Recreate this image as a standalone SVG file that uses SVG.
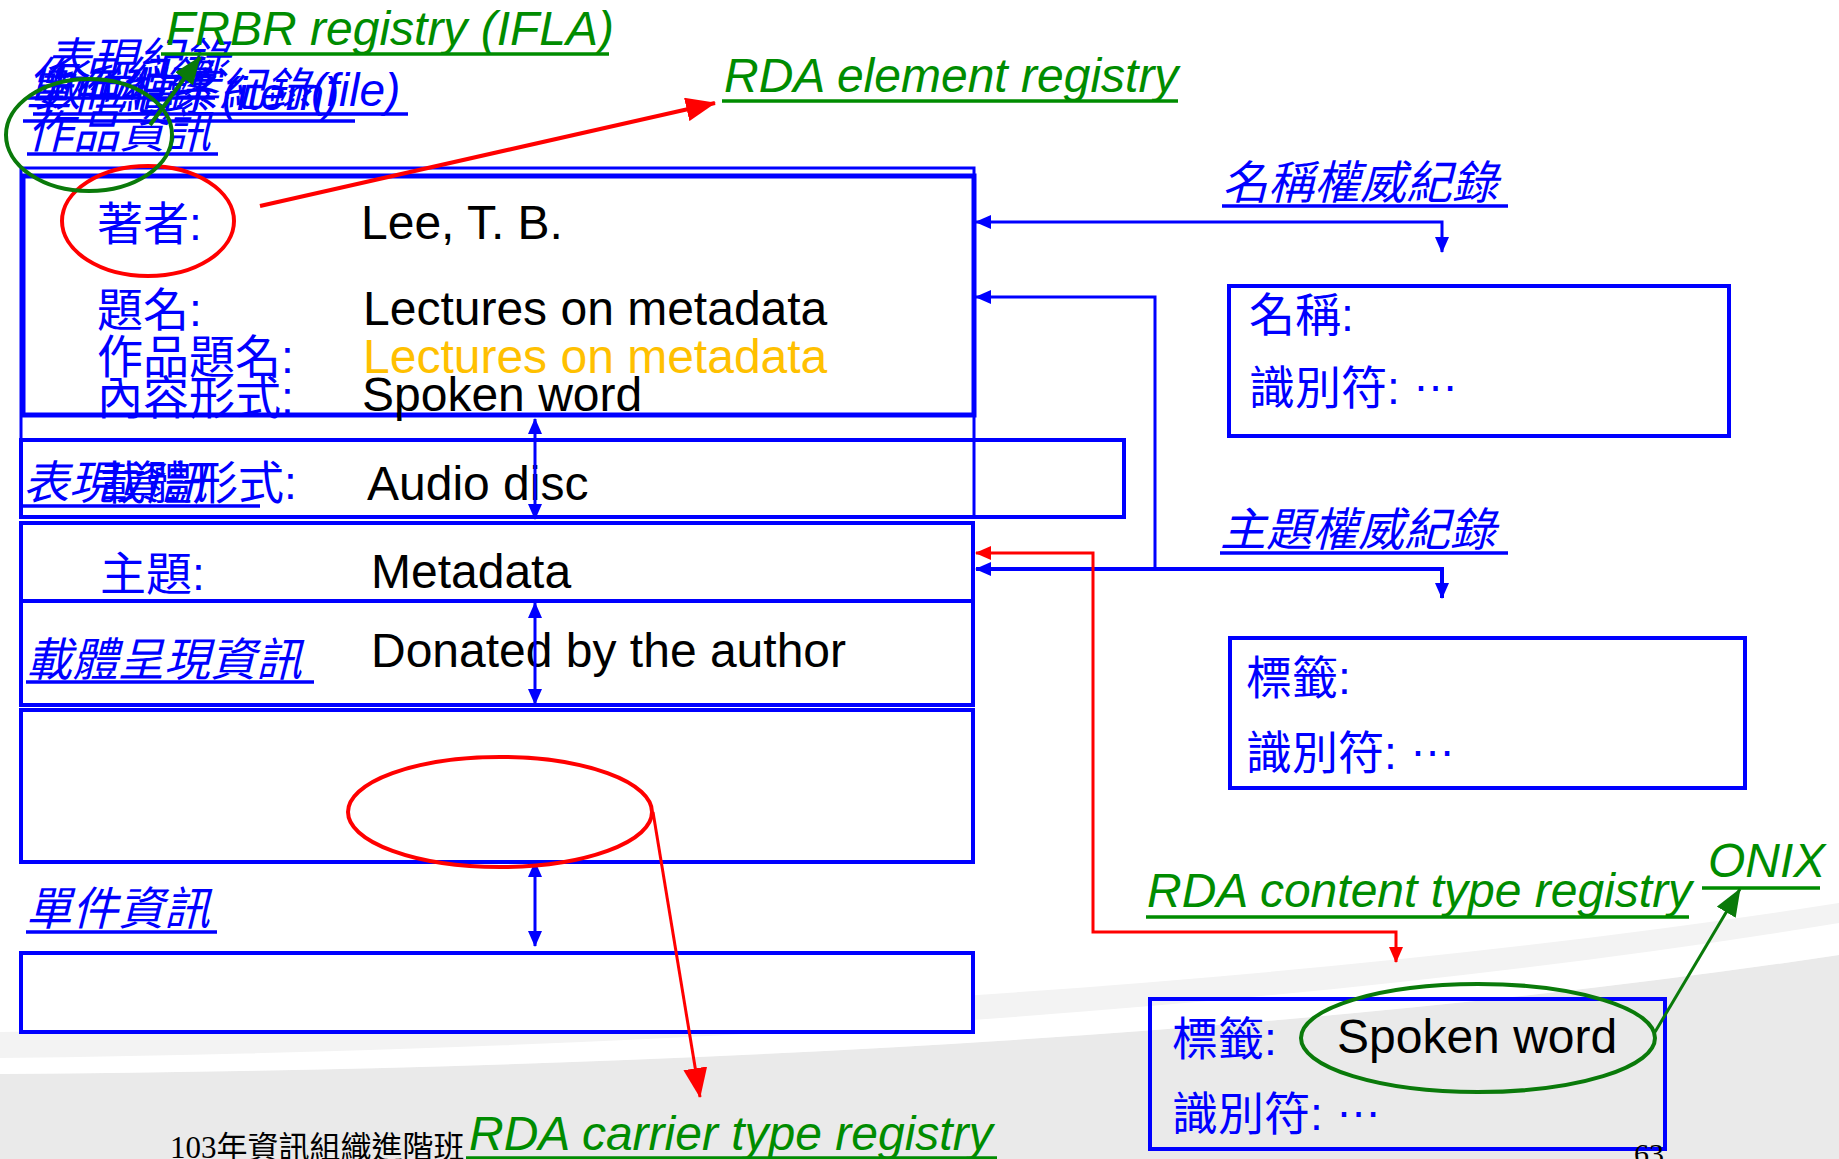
<svg xmlns="http://www.w3.org/2000/svg" width="1839" height="1159" viewBox="0 0 1839 1159">
<style>
.box{fill:none;stroke:#0000ff;stroke-width:4}
.boxw{fill:#ffffff;stroke:#0000ff;stroke-width:4}
.lbl{font-family:'Liberation Sans','Noto Sans CJK TC',sans-serif;font-size:46px;fill:#0000ff}
.lbli{font-family:'Liberation Sans','Noto Sans CJK TC',sans-serif;font-size:46px;fill:#0000ff;font-style:italic}
.val{font-family:'Liberation Sans',sans-serif;font-size:48px;fill:#000000}
.reg{font-family:'Liberation Sans',sans-serif;font-size:48px;font-style:italic;fill:#008c00}
.ulb{stroke:#0000ff;stroke-width:3.5}
.ulg{stroke:#008c00;stroke-width:3.5}
.cb{fill:none;stroke:#0000ff;stroke-width:3}
.cr{fill:none;stroke:#ff0000;stroke-width:3}
.cg{fill:none;stroke:#0a7a0a;stroke-width:3}
.eg{fill:none;stroke:#0a7a0a;stroke-width:4}
.er{fill:none;stroke:#ff0000;stroke-width:4}
.foot{font-family:'Liberation Serif','Noto Sans CJK TC',serif;fill:#000000}
</style>
<defs>
<marker id="ab" markerUnits="userSpaceOnUse" markerWidth="16" markerHeight="14" refX="15" refY="7" orient="auto-start-reverse"><path d="M0,0 L16,7 L0,14 z" fill="#0000ff"/></marker>
<marker id="ar" markerUnits="userSpaceOnUse" markerWidth="16" markerHeight="14" refX="15" refY="7" orient="auto-start-reverse"><path d="M0,0 L16,7 L0,14 z" fill="#ff0000"/></marker>
<marker id="arb" markerUnits="userSpaceOnUse" markerWidth="30" markerHeight="24" refX="29" refY="12" orient="auto"><path d="M0,0 L30,12 L0,24 z" fill="#ff0000"/></marker>
<marker id="ag" markerUnits="userSpaceOnUse" markerWidth="28" markerHeight="22" refX="27" refY="11" orient="auto"><path d="M0,0 L28,11 L0,22 z" fill="#0a7a0a"/></marker>
</defs>

<g id="background">
<rect x="0" y="0" width="1839" height="1159" fill="#ffffff"/>
<path d="M0,1032 Q1100,1018 1839,903 L1839,1159 L0,1159 Z" fill="#f3f3f3"/>
<path d="M0,1074 Q1100,1066 1839,955 L1839,1159 L0,1159 Z" fill="#eaeaea"/>
<path d="M0,1058 Q1100,1044 1839,923 L1839,955 Q1100,1066 0,1074 Z" fill="#ffffff"/>
</g>

<g id="record-labels">
<text class="lbli" x="45" y="76">表現紀錄</text>
<text class="lbli" x="28" y="95">作品紀錄</text>
<line class="ulb" x1="28" y1="98" x2="215" y2="98"/>
<text class="lbli" x="35" y="106">數位檔案紀錄(file)</text>
<line class="ulb" x1="33" y1="114" x2="408" y2="114"/>
<text class="lbli" x="25" y="110">單件紀錄 (item)</text>
<line class="ulb" x1="23" y1="121" x2="355" y2="121"/>
<text class="lbli" x="27" y="148">作品資訊</text>
<line class="ulb" x1="27" y1="154" x2="218" y2="154"/>
</g>

<g id="node-work">
<rect class="box" x="21" y="168" width="953" height="349" style="stroke-width:3"/>
<rect class="box" x="23" y="176" width="951" height="239" style="stroke-width:5"/>
<text class="lbl" x="97" y="240">著者:</text>
<text class="val" x="361" y="239">Lee, T. B.</text>
<text class="lbl" x="97" y="326">題名:</text>
<text class="val" x="363" y="325">Lectures on metadata</text>
<text class="lbl" x="97" y="373">作品題名:</text>
<text class="val" x="363" y="373" style="fill:#ffc000">Lectures on metadata</text>
<text class="lbl" x="97" y="414">內容形式:</text>
<text class="val" x="362" y="411">Spoken word</text>
</g>

<g id="node-expression">
<rect class="box" x="21" y="440" width="1103" height="77"/>
<text class="lbli" x="23" y="499">表現資訊</text>
<line class="ulb" x1="23" y1="506" x2="260" y2="506"/>
<text class="lbl" x="100" y="499">載體形式:</text>
<text class="val" x="367" y="500">Audio disc</text>
</g>

<g id="node-subject-row">
<rect class="box" x="21" y="523" width="952" height="78"/>
<text class="lbl" x="100" y="590">主題:</text>
<text class="val" x="371" y="588">Metadata</text>
</g>

<g id="node-manifestation">
<rect class="box" x="21" y="601" width="952" height="104"/>
<text class="lbli" x="26" y="676">載體呈現資訊</text>
<line class="ulb" x1="26" y1="682" x2="314" y2="682"/>
<text class="val" x="371" y="667">Donated by the author</text>
</g>

<g id="node-carrier">
<rect class="box" x="21" y="710" width="952" height="152"/>
</g>

<g id="node-item">
<text class="lbli" x="26" y="925">單件資訊</text>
<line class="ulb" x1="26" y1="932" x2="217" y2="932"/>
<rect class="boxw" x="21" y="953" width="952" height="79"/>
</g>

<g id="node-name-authority">
<text class="lbli" x="1222" y="199">名稱權威紀錄</text>
<line class="ulb" x1="1222" y1="206" x2="1508" y2="206"/>
<rect class="box" x="1229" y="286" width="500" height="150"/>
<text class="lbl" x="1249" y="331">名稱:</text>
<text class="lbl" x="1249" y="404">識別符: <tspan dy="-13">…</tspan></text>
</g>

<g id="node-subject-authority">
<text class="lbli" x="1220" y="546">主題權威紀錄</text>
<line class="ulb" x1="1220" y1="553" x2="1508" y2="553"/>
<rect class="box" x="1230" y="638" width="515" height="150"/>
<text class="lbl" x="1246" y="694">標籤:</text>
<text class="lbl" x="1246" y="769">識別符: <tspan dy="-13">…</tspan></text>
</g>

<g id="node-content-type">
<rect class="box" x="1150" y="999" width="515" height="150"/>
<text class="lbl" x="1172" y="1055">標籤:</text>
<text class="val" x="1337" y="1053">Spoken word</text>
<text class="lbl" x="1172" y="1130">識別符: <tspan dy="-13">…</tspan></text>
</g>

<g id="registries">
<text class="reg" x="166" y="45">FRBR registry (IFLA)</text>
<line class="ulg" x1="161" y1="54" x2="609" y2="54"/>
<text class="reg" x="724" y="92">RDA element registry</text>
<line class="ulg" x1="722" y1="101" x2="1178" y2="101"/>
<text class="reg" x="1147" y="907">RDA content type registry</text>
<line class="ulg" x1="1146" y1="917" x2="1689" y2="917"/>
<text class="reg" x="1708" y="877">ONIX</text>
<line class="ulg" x1="1702" y1="888" x2="1820" y2="888"/>
<text class="reg" x="469" y="1150">RDA carrier type registry</text>
<line class="ulg" x1="466" y1="1158" x2="997" y2="1158"/>
</g>

<g id="footer">
<text class="foot" x="170" y="1158" font-size="31">103年資訊組織進階班</text>
<text class="foot" x="1634" y="1164" font-size="30">63</text>
</g>

<g id="connectors">
<path class="cb" d="M976,222 H1442 V252" marker-start="url(#ab)" marker-end="url(#ab)"/>
<path class="cb" d="M976,297 H1155 V569" marker-start="url(#ab)"/>
<path class="cb" d="M976,569 H1442 V598" marker-start="url(#ab)" marker-end="url(#ab)" style="stroke-width:4"/>
<path class="cr" d="M976,553 H1093 V932 H1396 V962" marker-start="url(#ar)" marker-end="url(#ar)"/>
<path class="cb" d="M535,419 V519" marker-start="url(#ab)" marker-end="url(#ab)"/>
<path class="cb" d="M535,603 V704" marker-start="url(#ab)" marker-end="url(#ab)"/>
<path class="cb" d="M535,862 V946" marker-start="url(#ab)" marker-end="url(#ab)"/>
<path class="cr" d="M260,206 L715,103" marker-end="url(#arb)" style="stroke-width:4"/>
<path class="cr" d="M653,812 L700,1097" marker-end="url(#arb)"/>
<path class="cg" d="M150,125 L200,57" marker-end="url(#ag)" style="stroke-width:4"/>
<path class="cg" d="M1655,1032 L1740,889" marker-end="url(#ag)"/>
</g>

<g id="highlights">
<ellipse class="er" cx="148" cy="221" rx="86" ry="55"/>
<ellipse class="eg" cx="89" cy="135" rx="83" ry="56"/>
<ellipse class="er" cx="500" cy="812" rx="152" ry="55"/>
<ellipse class="eg" cx="1478" cy="1038" rx="177" ry="54"/>
</g>
</svg>
